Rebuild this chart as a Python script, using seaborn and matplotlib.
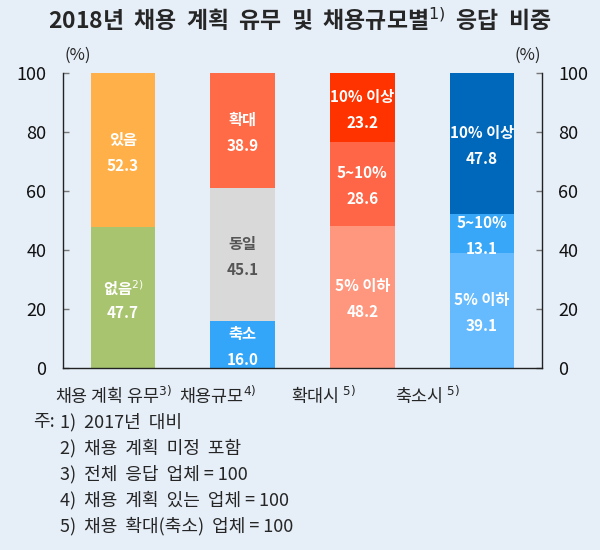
import pandas as pd
import matplotlib
matplotlib.use('Agg')
import matplotlib.pyplot as plt
import seaborn as sns

# chart data
categories = ['채용 계획 유무', '채용규모', '확대시', '축소시']
cat_labels = ['채용 계획 유무$^{3)}$', '채용규모$^{4)}$', '확대시 $^{5)}$', '축소시 $^{5)}$']
lower = [47.7, 16.0, 48.2, 39.1]
middle = [0.0, 45.1, 28.6, 13.1]
upper = [52.3, 38.9, 23.2, 47.8]
lower_names = ['없음$^{2)}$', '축소', '5% 이하', '5% 이하']
middle_names = ['', '동일', '5~10%', '5~10%']
upper_names = ['있음', '확대', '10% 이상', '10% 이상']
yticks = [0, 20, 40, 60, 80, 100]
notes = ['1)  2017년  대비',
         '2)  채용  계획  미정  포함',
         '3)  전체  응답  업체 = 100',
         '4)  채용  계획  있는  업체 = 100',
         '5)  채용  확대(축소)  업체 = 100']

lower_colors = ['#A8C46E', '#33A6FA', '#FF977F', '#66BBFF']
middle_colors = ['#A8C46E', '#D9D9D9', '#FF6647', '#38A7F7']
upper_colors = ['#FFB048', '#FF6A47', '#FF3300', '#0068BB']
bg = '#E6EEF8'

sns.set_style('white')
plt.rcParams['font.family'] = ['Noto Sans CJK KR', 'DejaVu Sans']
plt.rcParams['mathtext.fontset'] = 'dejavusans'

df = pd.DataFrame({'cat': categories, 'lower': lower, 'middle': middle, 'upper': upper})
df['top_mid'] = df['lower'] + df['middle']
df['top'] = df['top_mid'] + df['upper']

fig = plt.figure(figsize=(6, 5.5), dpi=100, facecolor=bg)
ax = fig.add_axes([0.105, 0.331, 0.798, 0.536])
ax.set_facecolor(bg)

# stacked bars: draw cumulative heights from the top layer down
for col, pal in [('top', upper_colors), ('top_mid', middle_colors), ('lower', lower_colors)]:
    sns.barplot(data=df, x='cat', y=col, hue='cat', palette=pal, order=categories,
                hue_order=categories, width=0.54, saturation=1, legend=False, ax=ax,
                linewidth=0)

# segment labels
for i in range(len(categories)):
    segs = [(0, lower[i], lower_names[i]),
            (lower[i], middle[i], middle_names[i]),
            (lower[i] + middle[i], upper[i], upper_names[i])]
    for base, val, name in segs:
        if val <= 0:
            continue
        c = base + val / 2
        color = '#555555' if name == '동일' else 'white'
        ax.text(i, c + 3.6, name, ha='center', va='center', color=color,
                fontsize=11, fontweight='bold')
        ax.text(i, c - 5.2, f'{val:.1f}', ha='center', va='center', color=color,
                fontsize=11, fontweight='bold')

ax.set_xlim(-0.5, 3.5)
ax.set_ylim(0, 100)
ax.set_yticks(yticks)
ax.set_xticks([])
ax.set_xlabel('')
ax.set_ylabel('')
ax.tick_params(axis='y', direction='in', length=4, width=1, labelsize=13,
               left=True, right=True, labelleft=True, labelright=True, pad=12,
               color='#777777', labelcolor='#111111')
for side in ['left', 'right', 'bottom']:
    ax.spines[side].set_color('#222222')
    ax.spines[side].set_linewidth(1)
ax.spines['top'].set_visible(False)

ax.text(0.03, 1.03, '(%)', transform=ax.transAxes, ha='center', va='bottom', fontsize=12)
ax.text(0.97, 1.03, '(%)', transform=ax.transAxes, ha='center', va='bottom', fontsize=12)

# category labels (shifted left as in the original layout)
label_shift = [-0.08, -0.21, -0.32, -0.45]
for i, lab in enumerate(cat_labels):
    ax.text(i + label_shift[i], -5.5, lab, ha='center', va='top', fontsize=12.5)

fig.text(0.5, 0.963, '2018년  채용  계획  유무  및  채용규모별$^{1)}$  응답  비중', ha='center',
         va='center', fontsize=16.5, fontweight='bold')

fig.text(0.055, 1 - 422 / 550, '주:', ha='left', va='center', fontsize=13)
for k, line in enumerate(notes):
    fig.text(0.1, 1 - (422 + 26 * k) / 550, line, ha='left', va='center', fontsize=13)

fig.savefig('out.png', dpi=100, facecolor=bg)
